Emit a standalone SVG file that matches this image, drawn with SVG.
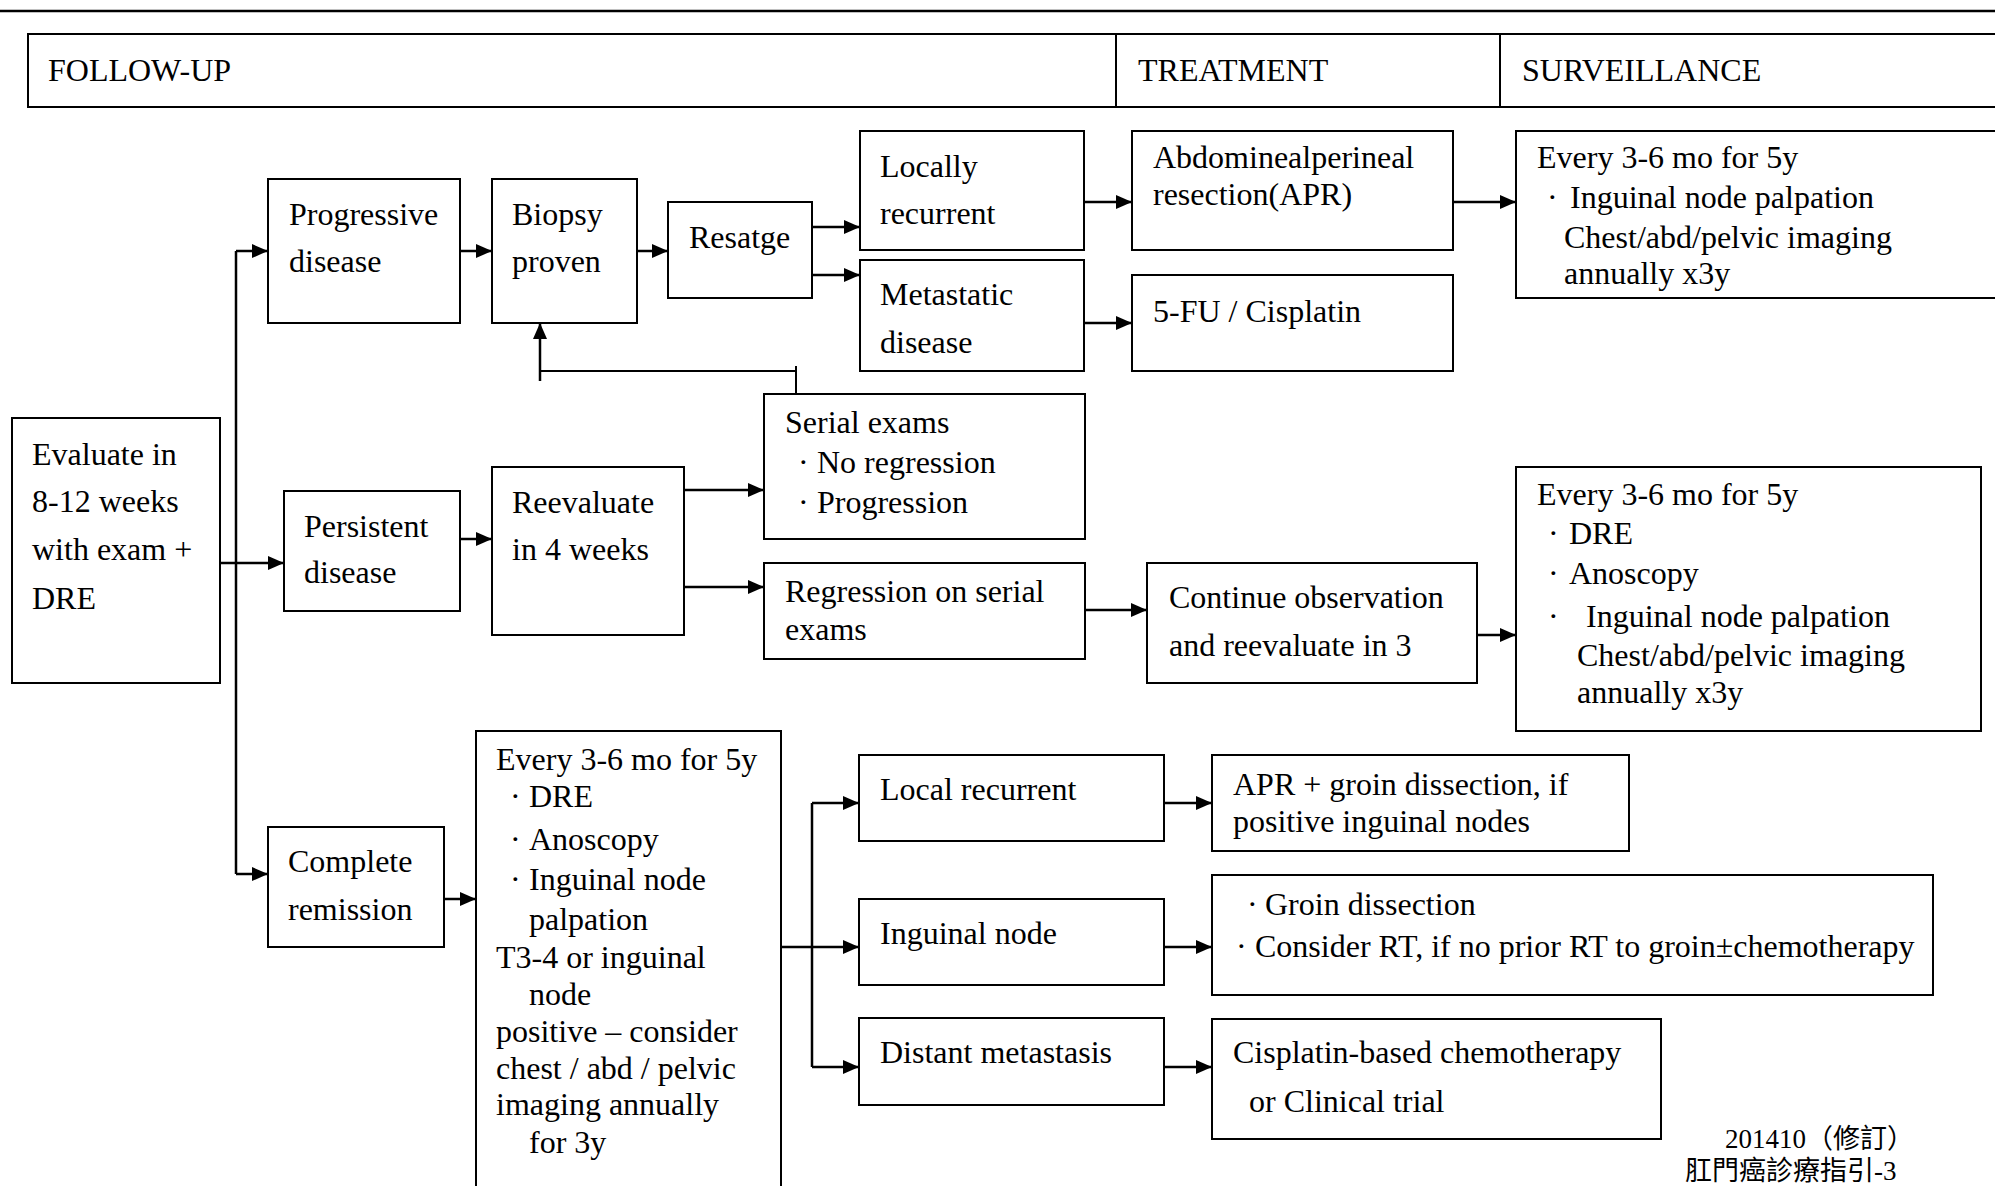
<svg xmlns="http://www.w3.org/2000/svg" width="1995" height="1186" viewBox="0 0 1995 1186">
<style>
text{font-family:"Liberation Serif","Times New Roman",serif;font-size:32px;fill:#000}
.box{fill:#fff;stroke:#000;stroke-width:2}
.c{fill:none;stroke:#000;stroke-width:2.5}
.cj{font-family:"Liberation Serif","Noto Sans CJK TC",serif;font-size:27px}
</style>
<defs>
<marker id="ah" markerWidth="16" markerHeight="14" refX="16" refY="7" orient="auto" markerUnits="userSpaceOnUse"><path d="M0,0 L16,7 L0,14 z" fill="#000"/></marker>
</defs>
<rect width="1995" height="1186" fill="#fff"/>
<line x1="0" y1="11" x2="1995" y2="11" stroke="#000" stroke-width="2.5"/>
<g id="header">
<rect class="box" x="28" y="34" width="1980" height="73"/>
<line x1="1116" y1="34" x2="1116" y2="107" stroke="#000" stroke-width="2"/>
<line x1="1500" y1="34" x2="1500" y2="107" stroke="#000" stroke-width="2"/>
<text x="48" y="81">FOLLOW-UP</text>
<text x="1138" y="81">TREATMENT</text>
<text x="1522" y="81">SURVEILLANCE</text>
</g>
<g id="connectors">
<path class="c" d="M236,251 V874"/>
<path class="c" d="M236,251 H268" marker-end="url(#ah)"/>
<path class="c" d="M220,563 H284" marker-end="url(#ah)"/>
<path class="c" d="M236,874 H268" marker-end="url(#ah)"/>
<path class="c" d="M460,251 H492" marker-end="url(#ah)"/>
<path class="c" d="M637,251 H668" marker-end="url(#ah)"/>
<path class="c" d="M812,227 H860" marker-end="url(#ah)"/>
<path class="c" d="M812,275 H860" marker-end="url(#ah)"/>
<path class="c" d="M1084,202 H1132" marker-end="url(#ah)"/>
<path class="c" d="M1084,323 H1132" marker-end="url(#ah)"/>
<path class="c" d="M1453,202 H1516" marker-end="url(#ah)"/>
<path class="c" d="M460,539 H492" marker-end="url(#ah)"/>
<path class="c" d="M684,490 H764" marker-end="url(#ah)"/>
<path class="c" d="M684,587 H764" marker-end="url(#ah)"/>
<path class="c" d="M1085,610 H1147" marker-end="url(#ah)"/>
<path class="c" d="M1477,635 H1516" marker-end="url(#ah)"/>
<path class="c" style="stroke-width:2" d="M796,394 V366 M796,371 H540"/>
<path class="c" d="M540,381 V323" marker-end="url(#ah)"/>
<path class="c" d="M444,899 H476" marker-end="url(#ah)"/>
<path class="c" d="M781,947 H859" marker-end="url(#ah)"/>
<path class="c" d="M812,803 V1067"/>
<path class="c" d="M812,803 H859" marker-end="url(#ah)"/>
<path class="c" d="M812,1067 H859" marker-end="url(#ah)"/>
<path class="c" d="M1164,803 H1212" marker-end="url(#ah)"/>
<path class="c" d="M1164,947 H1212" marker-end="url(#ah)"/>
<path class="c" d="M1164,1067 H1212" marker-end="url(#ah)"/>
</g>
<g id="evaluate">
<rect class="box" x="12" y="418" width="208" height="265"/>
<text x="32" y="465">Evaluate in</text>
<text x="32" y="512">8-12 weeks</text>
<text x="32" y="560">with exam +</text>
<text x="32" y="609">DRE</text>
</g>
<g id="progressive">
<rect class="box" x="268" y="179" width="192" height="144"/>
<text x="289" y="225">Progressive</text>
<text x="289" y="272">disease</text>
</g>
<g id="biopsy">
<rect class="box" x="492" y="179" width="145" height="144"/>
<text x="512" y="225">Biopsy</text>
<text x="512" y="272">proven</text>
</g>
<g id="restage">
<rect class="box" x="668" y="202" width="144" height="96"/>
<text x="689" y="248">Resatge</text>
</g>
<g id="locally">
<rect class="box" x="860" y="131" width="224" height="119"/>
<text x="880" y="177">Locally</text>
<text x="880" y="224">recurrent</text>
</g>
<g id="metastatic">
<rect class="box" x="860" y="260" width="224" height="111"/>
<text x="880" y="305">Metastatic</text>
<text x="880" y="353">disease</text>
</g>
<g id="apr-top">
<rect class="box" x="1132" y="131" width="321" height="119"/>
<text x="1153" y="168">Abdominealperineal</text>
<text x="1153" y="205">resection(APR)</text>
</g>
<g id="fu-cis">
<rect class="box" x="1132" y="275" width="321" height="96"/>
<text x="1153" y="322">5-FU / Cisplatin</text>
</g>
<g id="surv1">
<rect class="box" x="1516" y="131" width="500" height="167"/>
<text x="1537" y="168">Every 3-6 mo for 5y</text>
<text x="1547" y="208">·</text><text x="1570" y="208">Inguinal node palpation</text>
<text x="1564" y="248">Chest/abd/pelvic imaging</text>
<text x="1564" y="284">annually x3y</text>
</g>
<g id="persistent">
<rect class="box" x="284" y="491" width="176" height="120"/>
<text x="304" y="537">Persistent</text>
<text x="304" y="583">disease</text>
</g>
<g id="reevaluate">
<rect class="box" x="492" y="467" width="192" height="168"/>
<text x="512" y="513">Reevaluate</text>
<text x="512" y="560">in 4 weeks</text>
</g>
<g id="serial">
<rect class="box" x="764" y="394" width="321" height="145"/>
<text x="785" y="433">Serial exams</text>
<text x="798" y="473">·</text><text x="817" y="473">No regression</text>
<text x="798" y="513">·</text><text x="817" y="513">Progression</text>
</g>
<g id="regression">
<rect class="box" x="764" y="563" width="321" height="96"/>
<text x="785" y="602">Regression on serial</text>
<text x="785" y="640">exams</text>
</g>
<g id="continue">
<rect class="box" x="1147" y="563" width="330" height="120"/>
<text x="1169" y="608">Continue observation</text>
<text x="1169" y="656">and reevaluate in 3</text>
</g>
<g id="surv2">
<rect class="box" x="1516" y="467" width="465" height="264"/>
<text x="1537" y="505">Every 3-6 mo for 5y</text>
<text x="1548" y="544">·</text><text x="1569" y="544">DRE</text>
<text x="1548" y="584">·</text><text x="1569" y="584">Anoscopy</text>
<text x="1548" y="627">·</text><text x="1586" y="627">Inguinal node palpation</text>
<text x="1577" y="666">Chest/abd/pelvic imaging</text>
<text x="1577" y="703">annually x3y</text>
</g>
<g id="complete">
<rect class="box" x="268" y="827" width="176" height="120"/>
<text x="288" y="872">Complete</text>
<text x="288" y="920">remission</text>
</g>
<g id="surv3">
<rect class="box" x="476" y="731" width="305" height="480"/>
<text x="496" y="770">Every 3-6 mo for 5y</text>
<text x="510" y="807">·</text><text x="529" y="807">DRE</text>
<text x="510" y="850">·</text><text x="529" y="850">Anoscopy</text>
<text x="510" y="890">·</text><text x="529" y="890">Inguinal node</text>
<text x="529" y="930">palpation</text>
<text x="496" y="968">T3-4 or inguinal</text>
<text x="529" y="1005">node</text>
<text x="496" y="1042">positive – consider</text>
<text x="496" y="1079">chest / abd / pelvic</text>
<text x="496" y="1115">imaging annually</text>
<text x="529" y="1153">for 3y</text>
</g>
<g id="local">
<rect class="box" x="859" y="755" width="305" height="86"/>
<text x="880" y="800">Local recurrent</text>
</g>
<g id="inguinal">
<rect class="box" x="859" y="899" width="305" height="86"/>
<text x="880" y="944">Inguinal node</text>
</g>
<g id="distant">
<rect class="box" x="859" y="1018" width="305" height="87"/>
<text x="880" y="1063">Distant metastasis</text>
</g>
<g id="apr">
<rect class="box" x="1212" y="755" width="417" height="96"/>
<text x="1233" y="795">APR + groin dissection, if</text>
<text x="1233" y="832">positive inguinal nodes</text>
</g>
<g id="groin">
<rect class="box" x="1212" y="875" width="721" height="120"/>
<text x="1247" y="915">·</text><text x="1265" y="915">Groin dissection</text>
<text x="1236" y="957">·</text><text x="1255" y="957">Consider RT, if no prior RT to groin±chemotherapy</text>
</g>
<g id="cisplatin">
<rect class="box" x="1212" y="1019" width="449" height="120"/>
<text x="1233" y="1063">Cisplatin-based chemotherapy</text>
<text x="1249" y="1112">or Clinical trial</text>
</g>
<g id="footer">
<text class="cj" x="1725" y="1148">201410（修訂）</text>
<text class="cj" x="1685" y="1180">肛門癌診療指引-3</text>
</g>
</svg>
